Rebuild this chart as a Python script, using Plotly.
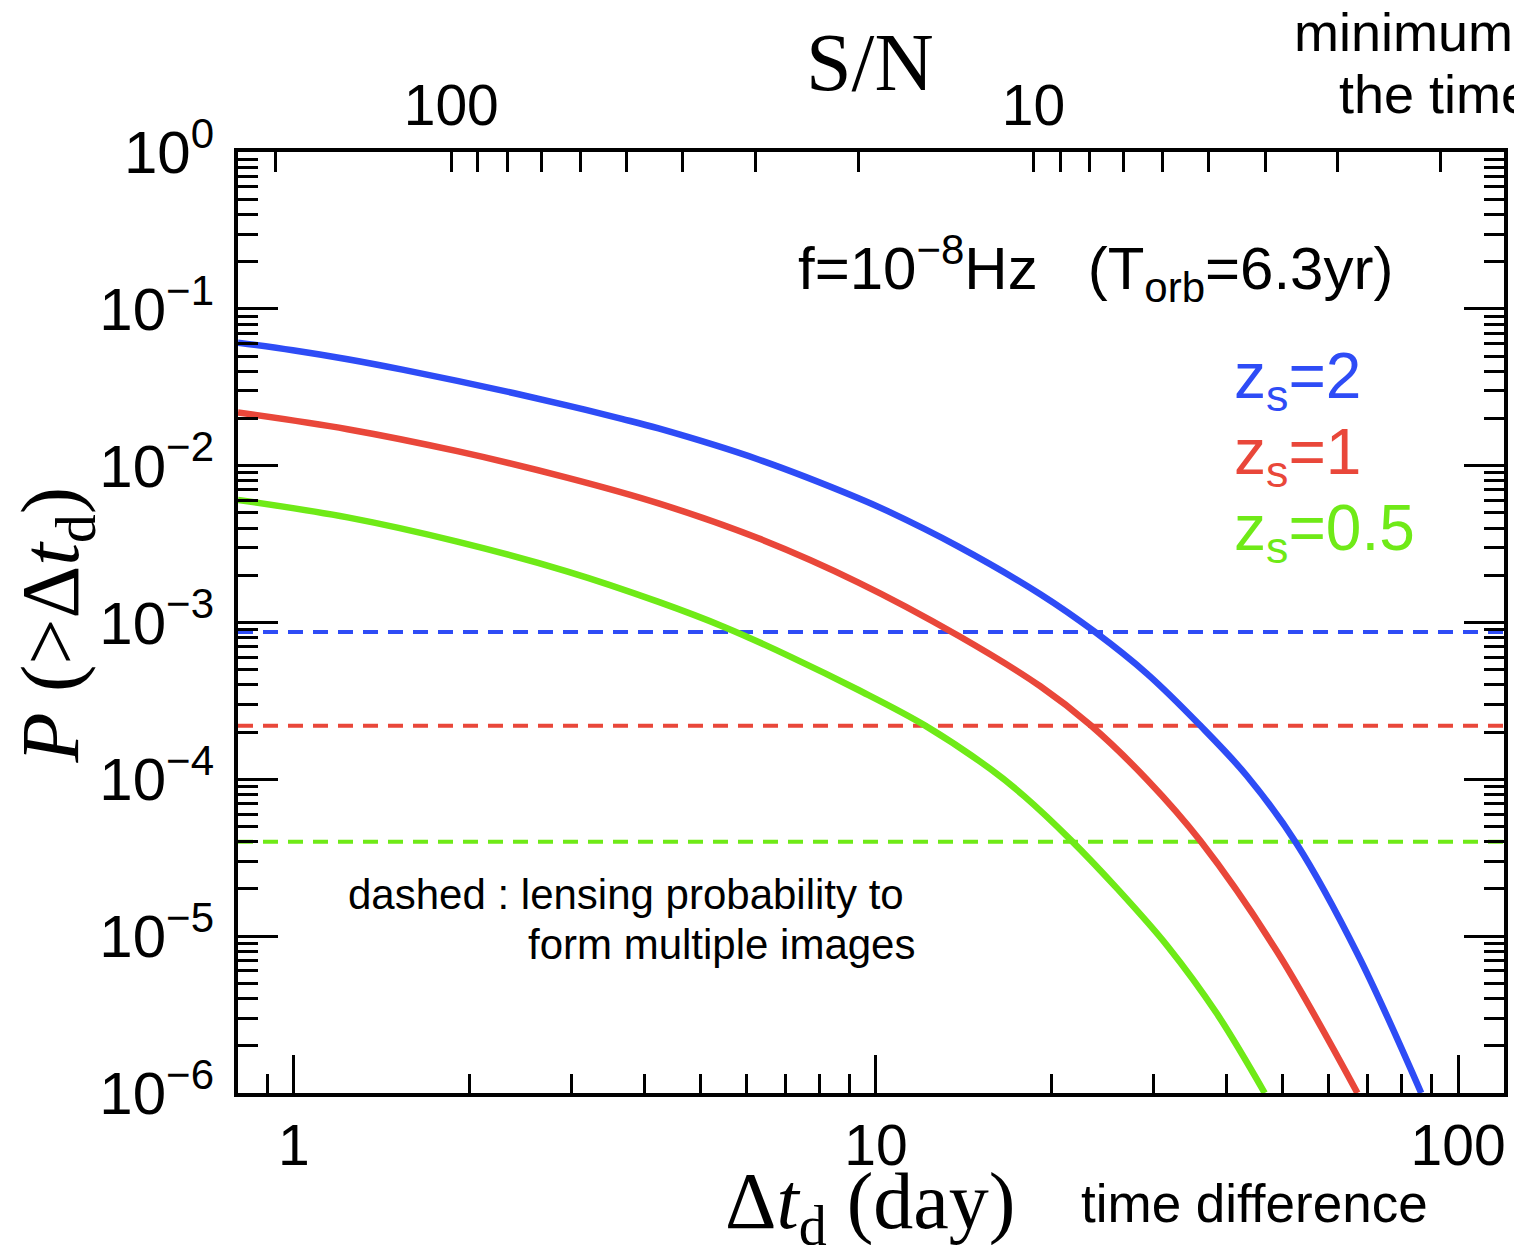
import math
import plotly.graph_objects as go

# ---------------- data ----------------
dt_z2 = [0.802, 0.996, 1.237, 1.537, 1.909, 2.371, 2.945, 3.660, 4.233, 6.282, 9.315, 10.48,
         13.81, 19.16, 23.81, 29.23, 36.10, 43.35, 52.80, 67.15, 86.43]
p_z2 = [0.0609, 0.05446, 0.04773, 0.04097, 0.03471, 0.02919, 0.02423, 0.01988, 0.01726, 0.01095,
        0.006223, 0.005129, 0.003069, 0.001515, 8.67e-4, 4.703e-4, 2.193e-4, 1.054e-4, 3.886e-5,
        7.73e-6, 1.0e-6]

dt_z1 = [0.802, 1.237, 1.909, 2.945, 4.233, 6.282, 9.315, 13.81, 19.16, 23.35, 29.23, 36.10, 48.80, 67.15]
p_z1 = [0.02181, 0.01708, 0.01237, 0.008398, 0.005751, 0.003440, 0.001804, 8.29e-4, 3.92e-4,
        2.219e-4, 9.94e-5, 4.037e-5, 8.04e-6, 1.0e-6]

dt_z05 = [0.802, 1.237, 1.909, 2.945, 4.233, 5.512, 7.153, 9.315, 12.13, 15.74, 17.99, 21.58, 25.97,
          31.74, 38.51, 46.54]
p_z05 = [0.006053, 0.004677, 0.003278, 0.002120, 0.001353, 9.30e-4, 6.02e-4, 3.725e-4, 2.209e-4,
         1.161e-4, 7.79e-5, 4.13e-5, 2.008e-5, 8.57e-6, 3.21e-6, 1.0e-6]

# multiple-image lensing probability (dashed)
p_multi = [8.7e-4, 2.2e-4, 4.0e-5]
series_names = ["z<sub>s</sub>=2", "z<sub>s</sub>=1", "z<sub>s</sub>=0.5"]
colors = ["#2E4CF6", "#E9473A", "#6FEA17"]

# axes
x_range = [0.802, 119.9]
y_range = [1e-6, 1.0]
SN_TIMES_DT = 186.4  # S/N * dt (top axis relation)
x_major = [1, 10, 100]
x_major_text = ["1", "10", "100"]
x_minor = [0.9] + [k for k in range(2, 10)] + [10 * k for k in range(2, 10)]
y_major = [1e-6, 1e-5, 1e-4, 1e-3, 1e-2, 1e-1, 1]
y_major_text = ["10<sup>\u22126</sup>", "10<sup>\u22125</sup>", "10<sup>\u22124</sup>",
                "10<sup>\u22123</sup>", "10<sup>\u22122</sup>", "10<sup>\u22121</sup>", "10<sup>0</sup>"]
y_minor = [k * 10.0 ** n for n in range(-6, 0) for k in range(2, 10)]
sn_major = [100, 10]
sn_major_text = ["100", "10"]
sn_minor = [200, 90, 80, 70, 60, 50, 40, 30, 20, 9, 8, 7, 6, 5, 4, 3, 2]

# ---------------- layout geometry ----------------
W, H = 1514, 1245
L, R, T, B = 238, 1508, 152, 1093


def xp(px):
    return (px - L) / (R - L)


def yp(py):
    return (B - py) / (B - T)


SANS = "Liberation Sans, Arial, sans-serif"
SERIF = "Liberation Serif, Times New Roman, serif"

fig = go.Figure()

for yv, c in zip(p_multi, colors):
    fig.add_trace(go.Scatter(x=x_range, y=[yv, yv], mode="lines",
                             line=dict(color=c, width=4, dash="15px,10px"),
                             hoverinfo="skip", showlegend=False))

for xs, ys, c in [(dt_z2, p_z2, colors[0]), (dt_z1, p_z1, colors[1]), (dt_z05, p_z05, colors[2])]:
    fig.add_trace(go.Scatter(x=xs, y=ys, mode="lines",
                             line=dict(color=c, width=6.5, shape="spline", smoothing=1.0),
                             showlegend=False))

# invisible trace to activate top axis
fig.add_trace(go.Scatter(x=sn_major, y=[1e-3] * len(sn_major), xaxis="x2", mode="markers",
                         marker=dict(opacity=0), hoverinfo="skip", showlegend=False))

fig.update_layout(
    width=W, height=H,
    margin=dict(l=L, r=W - R, t=T, b=H - B),
    paper_bgcolor="white", plot_bgcolor="white",
    font=dict(family=SANS, color="black"),
    xaxis=dict(type="log", range=[math.log10(x_range[0]), math.log10(x_range[1])],
               showgrid=False, zeroline=False, showline=True, linecolor="black", linewidth=4,
               mirror=False, tickmode="array", tickvals=x_major, ticktext=x_major_text,
               ticks="inside", ticklen=38, tickwidth=3, tickcolor="black",
               tickfont=dict(family=SANS, size=57, color="black"),
               minor=dict(tickmode="array", tickvals=x_minor, ticks="inside", ticklen=19,
                          tickwidth=3, tickcolor="black", showgrid=False)),
    xaxis2=dict(type="log", overlaying="x", side="top", anchor="y",
                range=[math.log10(SN_TIMES_DT / x_range[0]), math.log10(SN_TIMES_DT / x_range[1])],
                showgrid=False, zeroline=False, showline=True, linecolor="black", linewidth=4,
                tickmode="array", tickvals=sn_major, ticktext=sn_major_text,
                ticks="inside", ticklen=20, tickwidth=3, tickcolor="black",
                tickfont=dict(family=SANS, size=57, color="black"),
                minor=dict(tickmode="array", tickvals=sn_minor, ticks="inside", ticklen=20,
                           tickwidth=3, tickcolor="black", showgrid=False)),
    yaxis=dict(type="log", range=[math.log10(y_range[0]), math.log10(y_range[1])],
               showgrid=False, zeroline=False, showline=True, linecolor="black", linewidth=4,
               mirror="ticks", tickmode="array", tickvals=y_major, ticktext=y_major_text,
               ticks="inside", ticklen=40, tickwidth=3, tickcolor="black",
               ticklabelstandoff=8,
               tickfont=dict(family=SANS, size=60, color="black"),
               minor=dict(tickmode="array", tickvals=y_minor, ticks="inside", ticklen=20,
                          tickwidth=3, tickcolor="black", showgrid=False)),
)

ann = []
# axis titles
ann.append(dict(text="\u0394<i>t</i><sub>d</sub> (day)", x=xp(872), y=yp(1207), xref="paper", yref="paper",
                showarrow=False, xanchor="center", yanchor="middle",
                font=dict(family=SERIF, size=80, color="black")))
ann.append(dict(text="<i>P</i> (>\u0394<i>t</i><sub>d</sub>)", x=xp(55), y=yp(625), xref="paper", yref="paper",
                showarrow=False, xanchor="center", yanchor="middle", textangle=-90,
                font=dict(family=SERIF, size=82, color="black")))
ann.append(dict(text="S/N", x=xp(872), y=yp(62), xref="paper", yref="paper",
                showarrow=False, xanchor="center", yanchor="middle",
                font=dict(family=SERIF, size=82, color="black")))
# frequency text
ann.append(dict(text="f=10<sup>\u22128</sup>Hz   (T<sub>orb</sub>=6.3yr)", x=xp(798), y=yp(268),
                xref="paper", yref="paper", showarrow=False, xanchor="left", yanchor="middle",
                font=dict(family=SANS, size=60, color="black")))
# series labels
for i, (nm, c) in enumerate(zip(series_names, colors)):
    ann.append(dict(text=nm, x=xp(1235), y=yp(380 + 76 * i), xref="paper", yref="paper",
                    showarrow=False, xanchor="left", yanchor="middle",
                    font=dict(family=SANS, size=64, color=c)))
# dashed note
ann.append(dict(text="dashed : lensing probability to", x=xp(346), y=yp(894), xref="paper", yref="paper",
                showarrow=False, xanchor="left", yanchor="middle",
                font=dict(family=SANS, size=42, color="black")))
ann.append(dict(text="form multiple images", x=xp(527), y=yp(944), xref="paper", yref="paper",
                showarrow=False, xanchor="left", yanchor="middle",
                font=dict(family=SANS, size=42, color="black")))
# outside notes
ann.append(dict(text="time difference", x=xp(1082), y=yp(1203), xref="paper", yref="paper",
                showarrow=False, xanchor="left", yanchor="middle",
                font=dict(family=SANS, size=53, color="black")))
ann.append(dict(text="minimum", x=xp(1295), y=yp(32), xref="paper", yref="paper",
                showarrow=False, xanchor="left", yanchor="middle",
                font=dict(family=SANS, size=54, color="black")))
ann.append(dict(text="the time", x=xp(1340), y=yp(94), xref="paper", yref="paper",
                showarrow=False, xanchor="left", yanchor="middle",
                font=dict(family=SANS, size=54, color="black")))

fig.update_layout(annotations=ann)
fig.write_html("out.html")
